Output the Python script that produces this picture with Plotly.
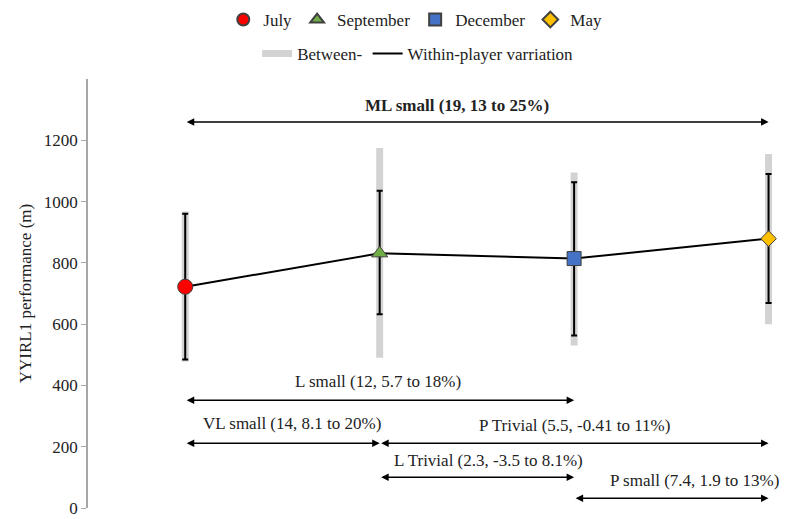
import plotly.graph_objects as go

# ---- data ----
months = ["July", "September", "December", "May"]
means = [722, 831, 814, 879]
within_low = [485, 632, 563, 669]
within_high = [960, 1035, 1063, 1090]
between_low = [478, 490, 530, 600]
between_high = [968, 1175, 1095, 1155]

comp_labels = [
    "<b>ML small (19, 13 to 25%)</b>",
    "L small (12, 5.7 to 18%)",
    "VL small (14, 8.1 to 20%)",
    "P Trivial (5.5, -0.41 to 11%)",
    "L Trivial (2.3, -3.5 to 8.1%)",
    "P small (7.4, 1.9 to 13%)",
]
comp_from = [0, 0, 0, 1, 1, 2]
comp_to = [3, 2, 1, 3, 2, 3]

# ---- layout helpers (positions) ----
arrow_level = [1260, 352, 211, 211, 100, 32]
label_x = [1.40, 0.99, 0.55, 2.0, 1.56, 2.62]
label_y = [1313, 414, 277, 270, 156, 91]

FONT = "Liberation Serif, Times New Roman, DejaVu Serif, serif"
xs = list(range(len(months)))

marker_symbols = ["circle", "triangle-up", "square", "diamond"]
marker_colors = ["#ff0000", "#70ad47", "#4472c4", "#ffc000"]
marker_sizes = [15, 14, 14, 12]

fig = go.Figure()

# between-player (grey thick bars)
fig.add_trace(go.Scatter(
    x=xs, y=means, mode="markers",
    marker=dict(size=1, color="rgba(0,0,0,0)"),
    error_y=dict(type="data", symmetric=False,
                 array=[h - m for h, m in zip(between_high, means)],
                 arrayminus=[m - l for m, l in zip(means, between_low)],
                 color="#d3d3d3", thickness=7, width=0),
    showlegend=False, hoverinfo="skip"))

# within-player (black thin bars) + line
fig.add_trace(go.Scatter(
    x=xs, y=means, mode="lines",
    line=dict(color="black", width=2),
    error_y=dict(type="data", symmetric=False,
                 array=[h - m for h, m in zip(within_high, means)],
                 arrayminus=[m - l for m, l in zip(means, within_low)],
                 color="black", thickness=2, width=3),
    showlegend=False, hoverinfo="skip"))

# markers
for i, mth in enumerate(months):
    fig.add_trace(go.Scatter(
        x=[xs[i]], y=[means[i]], mode="markers", name=mth,
        marker=dict(symbol=marker_symbols[i], size=marker_sizes[i],
                    color=marker_colors[i], line=dict(color="#404040", width=1)),
        legend="legend"))

# legend-only line entries
fig.add_trace(go.Scatter(x=[None], y=[None], mode="lines", name="Between-",
                         line=dict(color="#d3d3d3", width=7), legend="legend2"))
fig.add_trace(go.Scatter(x=[None], y=[None], mode="lines", name="Within-player varriation",
                         line=dict(color="black", width=2), legend="legend2"))

# comparison arrows and labels
for i, lab in enumerate(comp_labels):
    fig.add_annotation(x=comp_to[i], y=arrow_level[i], ax=comp_from[i], ay=arrow_level[i],
                       xref="x", yref="y", axref="x", ayref="y", text="",
                       showarrow=True, arrowhead=2, arrowside="end+start",
                       arrowsize=1, arrowwidth=1.5, arrowcolor="black",
                       standoff=0, startstandoff=0)
    fig.add_annotation(x=label_x[i], y=label_y[i], xref="x", yref="y", text=lab,
                       showarrow=False, font=dict(family=FONT, size=17, color="#222"))

fig.update_layout(
    width=788, height=519,
    margin=dict(l=88, r=0, t=79, b=11, autoexpand=False),
    paper_bgcolor="white", plot_bgcolor="white",
    font=dict(family=FONT, size=17, color="#222"),
    xaxis=dict(range=[-0.5, 3.1], showgrid=False, zeroline=False, showticklabels=False,
               showline=False, ticks=""),
    yaxis=dict(range=[0, 1400], tickvals=[0, 200, 400, 600, 800, 1000, 1200],
               showgrid=False, zeroline=False, showline=True, linecolor="#a6a6a6",
               linewidth=1.5, ticks="outside", ticklen=5, tickcolor="#a6a6a6",
               tickfont=dict(family=FONT, size=17, color="#222"),
               title=dict(text="YYIRL1 performance (m)", font=dict(family=FONT, size=17),
                          standoff=8)),
    legend=dict(orientation="h", x=0.527, xanchor="center", y=1 - 20 / 519, yanchor="middle",
                yref="container", xref="container",
                font=dict(family=FONT, size=17, color="#222"),
                itemwidth=30, itemsizing="constant", bgcolor="rgba(0,0,0,0)"),
    legend2=dict(orientation="h", x=0.53, xanchor="center", y=1 - 54 / 519, yanchor="middle",
                 yref="container", xref="container",
                 font=dict(family=FONT, size=17, color="#222"),
                 itemwidth=30, bgcolor="rgba(0,0,0,0)"),
)

fig.write_html("out.html")
